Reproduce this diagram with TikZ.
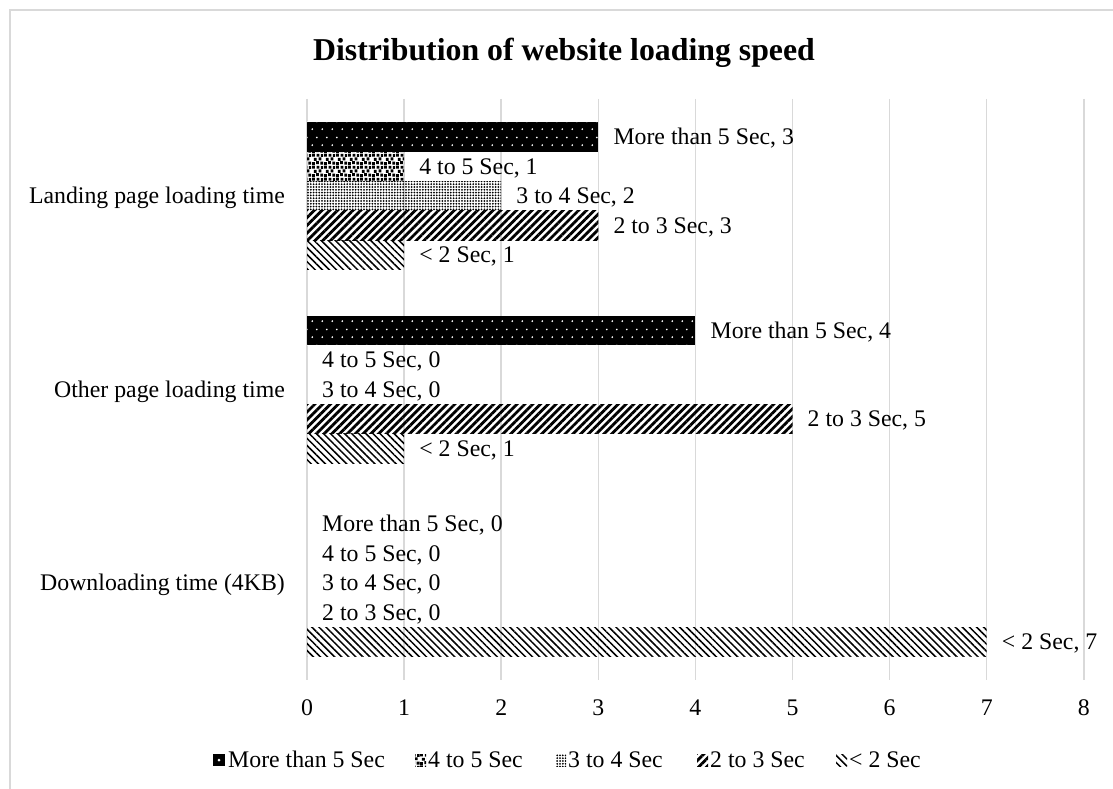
\documentclass[tikz,border=0pt]{standalone}
\usepackage{fontspec}
\setmainfont{Liberation Serif}
\usetikzlibrary{patterns,patterns.meta}

\definecolor{gridgray}{RGB}{217,217,217}
\definecolor{framegray}{RGB}{217,217,217}

% staggered sparse dots (drawn white on black)
\pgfdeclarepatternformonly{sparsedots}{\pgfpointorigin}{\pgfqpoint{10pt}{16pt}}{\pgfqpoint{10pt}{16pt}}{%
  \pgfpathcircle{\pgfqpoint{2.5pt}{4pt}}{1pt}%
  \pgfpathcircle{\pgfqpoint{7.5pt}{12pt}}{1pt}%
  \pgfusepath{fill}}

% large confetti, irregular squares
\pgfdeclarepatternformonly{confetti}{\pgfpointorigin}{\pgfqpoint{12pt}{12pt}}{\pgfqpoint{12pt}{12pt}}{%
  \pgfpathrectangle{\pgfqpoint{0pt}{0pt}}{\pgfqpoint{3pt}{3pt}}%
  \pgfpathrectangle{\pgfqpoint{4.5pt}{1pt}}{\pgfqpoint{3pt}{3pt}}%
  \pgfpathrectangle{\pgfqpoint{9pt}{0.5pt}}{\pgfqpoint{3pt}{3pt}}%
  \pgfpathrectangle{\pgfqpoint{2pt}{4.5pt}}{\pgfqpoint{3pt}{3pt}}%
  \pgfpathrectangle{\pgfqpoint{7pt}{5pt}}{\pgfqpoint{3pt}{3pt}}%
  \pgfpathrectangle{\pgfqpoint{0pt}{9pt}}{\pgfqpoint{3pt}{3pt}}%
  \pgfpathrectangle{\pgfqpoint{5pt}{8.8pt}}{\pgfqpoint{3pt}{3pt}}%
  \pgfpathrectangle{\pgfqpoint{9.5pt}{8.5pt}}{\pgfqpoint{2.5pt}{3pt}}%
  \pgfusepath{fill}}

\newcommand\chartslot[6]{% group, top, index, value, style, series
  \pgfmathsetmacro\slottop{#2+#3*29.5}%
  \ifdim #4pt>0pt
    \path[#5] (307,\slottop) rectangle ({307+#4*97.1},{\slottop+29.5});
  \fi
  \node[lbl, anchor=west] (#1-#3) at ({307+#4*97.1+15},{\slottop+14.75}) {#6, #4};}

\newcommand\chartgroup[7]{% name, top, five values
  \chartslot{#1}{#2}{0}{#3}{sfive}{More than 5 Sec}
  \chartslot{#1}{#2}{1}{#4}{sfour}{4 to 5 Sec}
  \chartslot{#1}{#2}{2}{#5}{sthree}{3 to 4 Sec}
  \chartslot{#1}{#2}{3}{#6}{stwo}{2 to 3 Sec}
  \chartslot{#1}{#2}{4}{#7}{sone}{< 2 Sec}}

\begin{document}
\begin{tikzpicture}[x=1pt,y=-1pt,
  grid/.style={draw=gridgray, line width=1.5pt},
  lbl/.style={inner sep=0pt, text height=15.7pt, text depth=0pt,
    font=\fontsize{23.8}{28}\selectfont},
  sfive/.style={fill=black, postaction={pattern=sparsedots, pattern color=white}},
  sfour/.style={pattern=confetti, pattern color=black},
  sthree/.style={pattern={Dots[distance=2.8pt,radius=1pt]}, pattern color=black},
  stwo/.style={pattern={Lines[angle=45,distance=5.5pt,line width=2.8pt]}, pattern color=black},
  sone/.style={pattern={Lines[angle=-45,distance=5pt,line width=1.5pt]}, pattern color=black}]

\useasboundingbox (0,0) rectangle (1113,789);
\fill[white] (0,0) rectangle (1113,789);

% chart frame
\draw[framegray, line width=1.5pt] (1113,10) -- (10,10) -- (10,789);

% title
\node[anchor=base, inner sep=0pt, font=\fontsize{31.8}{36}\selectfont\bfseries]
  (title) at (564,61) {Distribution of website loading speed};

% vertical gridlines and value axis labels
\foreach \i in {0,...,8}{
  \draw[grid] ({307+\i*97.1},99) -- ({307+\i*97.1},680);
  \node[lbl, anchor=center] (t\i) at ({307+\i*97.1},708) {\i};
}

% category labels
\node[lbl, anchor=east] (catA) at (285,196) {Landing page loading time};
\node[lbl, anchor=east] (catB) at (285,389.5) {Other page loading time};
\node[lbl, anchor=east] (catC) at (285,583) {Downloading time (4KB)};

% bars with data labels
\chartgroup{land}{122}{3}{1}{2}{3}{1}
\chartgroup{other}{315.5}{4}{0}{0}{5}{1}
\chartgroup{down}{509}{0}{0}{0}{0}{7}

% legend
\fill[black] (213,754) rectangle (225,766);
\fill[white] (219,760) circle (1.5);
\node[lbl, anchor=west] (leg5) at (228,760) {More than 5 Sec};
\path[sfour] (415,754) rectangle (426,766);
\node[lbl, anchor=west] (leg4) at (428,760) {4 to 5 Sec};
\path[sthree] (556,754) rectangle (566,766);
\node[lbl, anchor=west] (leg3) at (568,760) {3 to 4 Sec};
\path[stwo] (697,754) rectangle (708,766);
\node[lbl, anchor=west] (leg2) at (710,760) {2 to 3 Sec};
\path[sone] (836,754) rectangle (847,766);
\node[lbl, anchor=west] (leg1) at (849,760) {< 2 Sec};
\end{tikzpicture}
\end{document}
